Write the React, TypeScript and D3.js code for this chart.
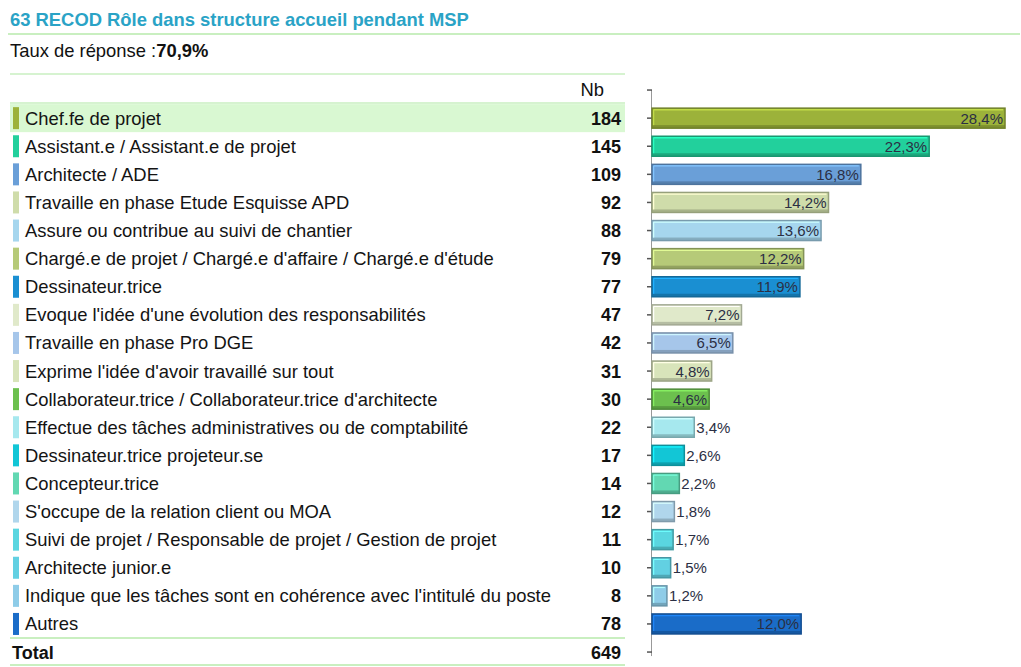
import * as d3 from 'd3'
import { type ReactElement } from 'react'

const categories = [
  'Chef.fe de projet',
  'Assistant.e / Assistant.e de projet',
  'Architecte / ADE',
  'Travaille en phase Etude Esquisse APD',
  'Assure ou contribue au suivi de chantier',
  "Chargé.e de projet / Chargé.e d'affaire / Chargé.e d'étude",
  'Dessinateur.trice',
  "Evoque l'idée d'une évolution des responsabilités",
  'Travaille en phase Pro DGE',
  "Exprime l'idée d'avoir travaillé sur tout",
  "Collaborateur.trice / Collaborateur.trice d'architecte",
  'Effectue des tâches administratives ou de comptabilité',
  'Dessinateur.trice projeteur.se',
  'Concepteur.trice',
  "S'occupe de la relation client ou MOA",
  'Suivi de projet / Responsable de projet / Gestion de projet',
  'Architecte junior.e',
  "Indique que les tâches sont en cohérence avec l'intitulé du poste",
  'Autres',
]

const counts = [184, 145, 109, 92, 88, 79, 77, 47, 42, 31, 30, 22, 17, 14, 12, 11, 10, 8, 78]

const percents = [28.4, 22.3, 16.8, 14.2, 13.6, 12.2, 11.9, 7.2, 6.5, 4.8, 4.6, 3.4, 2.6, 2.2, 1.8, 1.7, 1.5, 1.2, 12.0]

const colors = [
  '#9cb23a',
  '#22d09c',
  '#6a9fd8',
  '#cfdcaa',
  '#a6d6ee',
  '#b6ca78',
  '#1a8fd2',
  '#e0e9ca',
  '#a6c6ea',
  '#d8e4ba',
  '#6cc04e',
  '#a6e8ee',
  '#12c6d6',
  '#62d8b2',
  '#b0d6ec',
  '#5ad6e0',
  '#62d0e2',
  '#8ecce8',
  '#1a6cc8',
]

const total = 649
const responseRate = '70,9%'

const width = 1021
const height = 667
const font = "'Liberation Sans', Arial, sans-serif"
const lineGreen = '#c9efc0'
const fs = 18.4

export default function App(): ReactElement {
  // blank slot on top and one for the Total row, like the source chart's category axis
  const slots = ['_top', ...categories, '_total']
  const y = d3.scaleBand<string>().domain(slots).range([76, 76 + slots.length * 28.1])
  const x = d3.scaleLinear().domain([0, 30]).range([652, 652 + 30 * 12.43])
  const bh = 20
  const cy = (k: string) => (y(k) ?? 0) + y.bandwidth() / 2
  const fmt = (v: number) => v.toFixed(1).replace('.', ',') + '%'

  return (
    <div style={{ position: 'absolute', left: 0, top: 0, background: '#fff' }}>
      <svg width={width} height={height} style={{ display: 'block', fontFamily: font }}>
        <rect width={width} height={height} fill="#fff" />
        <text x={10} y={26} fontSize={fs} fontWeight="bold" fill="#2aa3c6">
          63 RECOD Rôle dans structure accueil pendant MSP
        </text>
        <line x1={8} x2={1020} y1={34} y2={34} stroke={lineGreen} strokeWidth={2} />
        <text x={10} y={57} fontSize={fs} fill="#111">
          Taux de réponse :<tspan fontWeight="bold">{responseRate}</tspan>
        </text>
        <line x1={10} x2={625} y1={74} y2={74} stroke={lineGreen} strokeWidth={1.5} />
        <text x={604} y={96} fontSize={fs} textAnchor="end" fill="#111">
          Nb
        </text>
        <line x1={10} x2={625} y1={103} y2={103} stroke={lineGreen} strokeWidth={1.5} />
        <rect x={10} y={cy(categories[0]) - 14} width={615} height={28} fill="#d9f8d2" />

        {categories.map((c, i) => {
          const yc = cy(c)
          return (
            <g key={c}>
              <rect x={13} y={yc - 11} width={6} height={22} fill={colors[i]} />
              <text x={25} y={yc + 6.5} fontSize={fs} fill="#141414">
                {c}
              </text>
              <text x={621} y={yc + 6.5} fontSize={18} fontWeight="bold" textAnchor="end" fill="#111">
                {counts[i]}
              </text>
            </g>
          )
        })}

        <line x1={10} x2={625} y1={638} y2={638} stroke={lineGreen} strokeWidth={2} />
        <text x={12} y={cy('_total') + 6.5} fontSize={18} fontWeight="bold" fill="#111">
          Total
        </text>
        <text x={621} y={cy('_total') + 6.5} fontSize={18} fontWeight="bold" textAnchor="end" fill="#111">
          {total}
        </text>
        <line x1={10} x2={625} y1={665} y2={665} stroke={lineGreen} strokeWidth={2} />

        {/* axis */}
        <line x1={651.5} x2={651.5} y1={cy('_top')} y2={cy('_total') + 4} stroke="#999" strokeWidth={1} />
        {slots.map((s) => (
          <line key={s} x1={647} x2={652} y1={cy(s)} y2={cy(s)} stroke="#555" strokeWidth={1.5} />
        ))}

        {categories.map((c, i) => {
          const yc = cy(c)
          const x0 = x(0)
          const x1 = x(percents[i])
          const w = x1 - x0
          const base = d3.color(colors[i])!
          const dark = base.darker(0.9).formatHex()
          const light = base.brighter(0.6).formatHex()
          const inside = percents[i] >= 4
          return (
            <g key={c}>
              <rect x={x0} y={yc - bh / 2} width={w} height={bh} fill={colors[i]} />
              <rect x={x0} y={yc + bh / 2 - 3} width={w} height={3} fill={dark} opacity={0.7} />
              <line x1={x0 + 1.5} x2={x1 - 2} y1={yc - bh / 2 + 1.5} y2={yc - bh / 2 + 1.5} stroke={light} strokeWidth={1.5} />
              <line x1={x0 + 1.5} x2={x0 + 1.5} y1={yc - bh / 2 + 1.5} y2={yc + bh / 2 - 3} stroke={light} strokeWidth={1.5} />
              <rect x={x0} y={yc - bh / 2} width={w} height={bh} fill="none" stroke={dark} strokeWidth={1.5} />
              <text
                x={inside ? x1 - 2 : x1 + 2}
                y={yc + 5.5}
                fontSize={15}
                textAnchor={inside ? 'end' : 'start'}
                fill="#2b2f44"
              >
                {fmt(percents[i])}
              </text>
            </g>
          )
        })}
      </svg>
    </div>
  )
}
